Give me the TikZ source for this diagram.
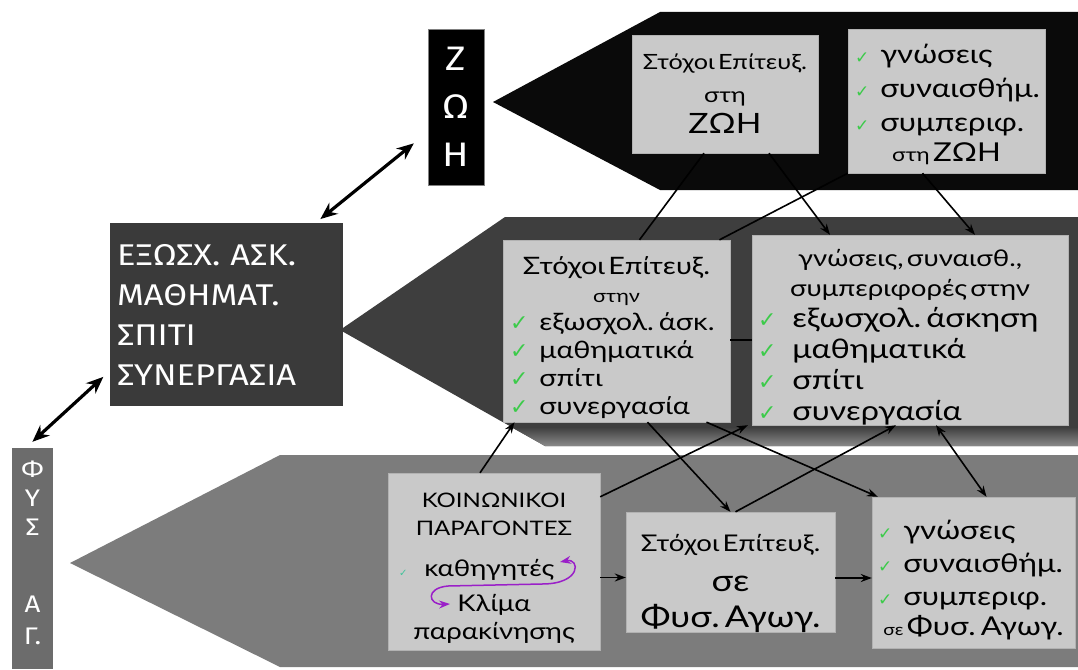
\documentclass[tikz,border=0pt]{standalone}
\usepackage{fontspec}
\setmainfont{Lato}[FakeStretch=1.2]
\newfontfamily\lblfont{Fira Sans}[FakeStretch=1.15]
\newfontfamily\symfont{DejaVu Sans}
\usetikzlibrary{arrows,arrows.meta}

\definecolor{bandtop}{HTML}{0A0A0A}
\definecolor{bandmid}{HTML}{3E3E3E}
\definecolor{bandedge}{HTML}{8A8A8A}
\definecolor{bandlow}{HTML}{7C7C7C}
\definecolor{boxgray}{HTML}{C9C9C9}
\definecolor{tagmid}{HTML}{3A3A3A}
\definecolor{taglow}{HTML}{6C6C6C}
\definecolor{chkgreen}{HTML}{3CCB4A}
\definecolor{chkteal}{HTML}{3FC39A}
\definecolor{curlpurple}{HTML}{9A1FC8}

\newcommand\fsz[2]{\fontsize{#1}{#2}\selectfont}
\newcommand\smallchk{{\symfont\fsz{10}{10}\textcolor{chkteal}{✓}}}
% [check size]{line width}{gap}{text}
\newcommand\ckitem[4][17]{\makebox[#2][l]{{\symfont\fsz{#1}{#1}\textcolor{chkgreen}{✓}}\hspace{#3}#4}}

\begin{document}
\begin{tikzpicture}[>={Stealth[length=11pt,width=8pt]}, % arrow head style
	x=1pt, y=-1pt, % pixel grid, y going down
	line width=1.6pt,
	box/.style={draw=gray!60, thin, fill=boxgray, inner sep=0pt, align=center},
	tag/.style={inner sep=0pt, text=white, font=\lblfont},
	bigarrow/.style={{Stealth[length=17pt,width=14pt]}-{Stealth[length=17pt,width=14pt]}, line width=3.2pt}]
	\useasboundingbox (0,0) rectangle (1078,669);

	% the three bands
	\fill[bandtop] (493,102) -- (660,12) -- (1078,12) -- (1078,190) -- (660,190) -- cycle;
	\fill[bandmid] (340,330) -- (505,217) -- (1078,217) -- (1078,446) -- (545,446) -- cycle;
	\shade[top color=bandmid, bottom color=bandedge] (511,427) -- (1078,427) -- (1078,446) -- (545,446) -- cycle;
	\fill[bandlow] (70,563) -- (280,455) -- (1078,455) -- (1078,667) -- (280,667) -- cycle;

	% side labels
	\node[tag, fill=black, draw=gray, thin, minimum width=56pt, minimum height=156pt,
		align=center, font=\lblfont\fsz{34}{48}] (zoi) at (456,107) {Ζ\\Ω\\Η};
	\node[tag, fill=tagmid, minimum width=233pt, minimum height=183pt, text width=219pt,
		align=left, font=\lblfont\fsz{30}{40}] (exo) at (226.5,314.5)
		{ΕΞΩΣΧ. ΑΣΚ.\\ΜΑΘΗΜΑΤ.\\ΣΠΙΤΙ\\ΣΥΝΕΡΓΑΣΙΑ\par};
	\node[tag, fill=taglow, minimum width=41pt, minimum height=221pt, text width=41pt,
		align=center, font=\lblfont\fsz{24}{29}] (fys) at (32.5,558.5)
		{Φ\\Υ\\Σ\\[48pt]Α\\[3pt]Γ.\par\kern12pt};

	% top band
	\node[box, text width=186pt, minimum height=118pt] (t1) at (725,94)
		{\fsz{21}{33}Στόχοι Επίτευξ.\\ στη\\ \fsz{28}{31}ΖΩΗ\par};
	\node[box, text width=197pt, minimum height=144pt] (t2) at (946.5,101)
		{\fsz{26}{34}\ckitem{183pt}{11pt}{γνώσεις}\\ \ckitem{183pt}{11pt}{συναισθήμ.}\\
		\ckitem{183pt}{11pt}{συμπεριφ.}\\[-4pt] {\fsz{19}{19}στη} ΖΩΗ\par\kern-6pt};

	% middle band
	\node[box, text width=227pt, minimum height=182pt] (m1) at (616.5,331)
		{\fsz{24}{28}Στόχοι Επίτευξ.\\ {\fsz{18}{18}στην}\\
		\ckitem[22]{213pt}{11pt}{εξωσχολ. άσκ.}\\ \ckitem[22]{213pt}{11pt}{μαθηματικά}\\
		\ckitem[22]{213pt}{11pt}{σπίτι}\\ \ckitem[22]{213pt}{11pt}{συνεργασία}\par\kern-14pt};
	\node[box, text width=316pt, minimum height=190pt] (m2) at (910,330)
		{\fsz{23}{30}γνώσεις, συναισθ.,\\ συμπεριφορές στην\\
		\fsz{27}{31}\ckitem[22]{304pt}{16pt}{εξωσχολ. άσκηση}\\ \ckitem[22]{304pt}{16pt}{μαθηματικά}\\
		\ckitem[22]{304pt}{16pt}{σπίτι}\\ \ckitem[22]{304pt}{16pt}{συνεργασία}\par\kern-14pt};

	% bottom band
	\node[box, text width=212pt, minimum height=177pt] (b1) at (494,561.5)
		{\fsz{20}{28}ΚΟΙΝΩΝΙΚΟΙ\\ ΠΑΡΑΓΟΝΤΕΣ\\[11pt]
		\fsz{23}{30}\makebox[190pt][l]{\smallchk\hspace{17pt}καθηγητές}\\[5pt]
		Κλίμα\\[-2pt] παρακίνησης\par\kern-14pt};
	\node[box, text width=209pt, minimum height=120pt] (b2) at (730.5,572)
		{\fsz{23}{26}Στόχοι Επίτευξ.\\[4pt] \fsz{30}{36}σε\\ Φυσ. Αγωγ.\par\kern-22pt};
	\node[box, text width=203pt, minimum height=151pt] (b3) at (973.5,572.5)
		{\fsz{26}{33}\ckitem{191pt}{11pt}{γνώσεις}\\ \ckitem{191pt}{11pt}{συναισθήμ.}\\
		\ckitem{191pt}{11pt}{συμπεριφ.}\\[-3pt] {\fsz{16}{16}σε} Φυσ. Αγωγ.\par\kern-16pt};

	% links between the levels
	\draw ([xshift=-21pt]t1.south) -- ([xshift=23pt]m1.north);
	\draw (t2.south west) -- ([xshift=103pt]m1.north);
	\draw[->] ([xshift=44pt]t1.south) -- ([xshift=-80pt]m2.north);
	\draw[->] ([xshift=-24pt]t2.south) -- ([xshift=65pt]m2.north);
	\draw ([yshift=-9pt]m1.east) -- ([yshift=-9pt]m1.east -| m2.west);
	\draw[->] ([xshift=-14pt]b1.north) -- ([xshift=-102pt]m1.south);
	\draw[->] ([yshift=-24pt]b1.north east) -- ([xshift=-4pt]m2.south west);
	\draw[->] ([xshift=31pt]m1.south) -- (b2.north);
	\draw[->] ([xshift=90pt]m1.south) -- ([xshift=6pt]b3.north west);
	\draw[->] ([xshift=5pt]b2.north) -- ([xshift=-14pt]m2.south);
	\draw[<->] ([xshift=26pt]m2.south) -- ([xshift=13pt]b3.north);
	\draw[->] ([yshift=-16pt]b1.east) -- ([yshift=-16pt]b1.east -| b2.west);
	\draw[->] ([yshift=-6pt]b2.east) -- ([yshift=-6pt]b2.east -| b3.west);

	% thick arrows between the labels
	\draw[bigarrow, shorten <=5pt, shorten >=18pt] ([xshift=90pt]exo.north) -- ([yshift=-25pt]zoi.west);
	\draw[bigarrow, shorten <=8pt, shorten >=8pt] ([yshift=-57pt]exo.west) -- ([xshift=-6pt]fys.north);

	% teachers <-> climate
	\draw[curlpurple, line width=1.5pt, <->] (560,562) .. controls (580,558) and (582,584) .. (542,584)
		-- (448,586) .. controls (425,588) and (428,605) .. (450,604);
\end{tikzpicture}
\end{document}
